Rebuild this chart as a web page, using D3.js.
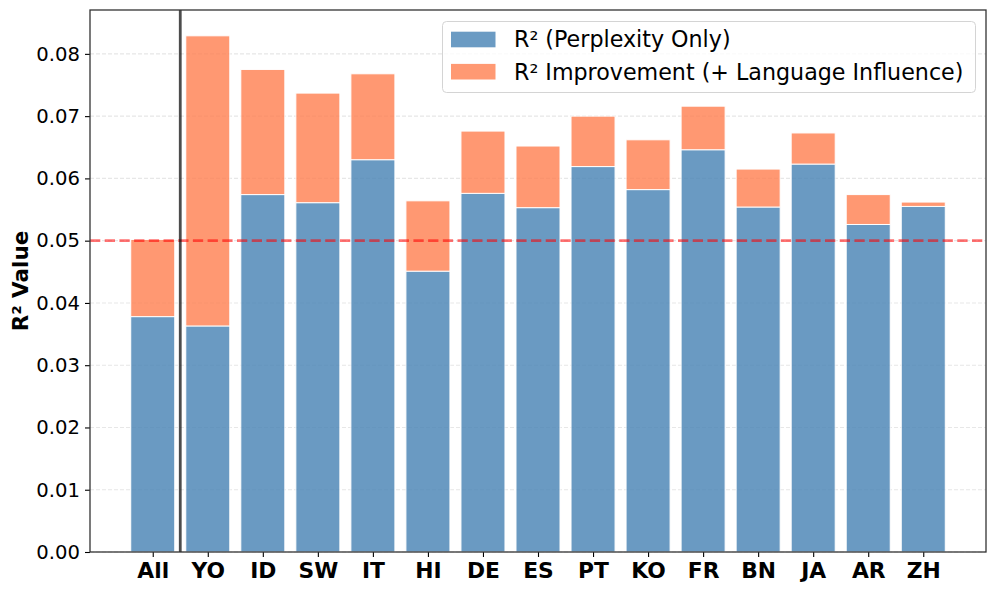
<!DOCTYPE html>
<html lang="en">
<head>
  <meta charset="UTF-8">
  <title>R² by language</title>
  <style>
    body { margin: 0; background: #fff; }
    svg { display: block; font-family: "DejaVu Sans", sans-serif; }
  </style>
</head>
<body>
  <div id="chart"></div>

  <script src="https://d3js.org/d3.v7.min.js"></script>
  <script>
    // data
    const languages = ["All", "YO", "ID", "SW", "IT", "HI", "DE", "ES", "PT", "KO", "FR", "BN", "JA", "AR", "ZH"];
    const r2Perplexity = [0.0378, 0.0363, 0.0574, 0.0561, 0.0630, 0.0451, 0.0576, 0.0553, 0.0619, 0.0582, 0.0646, 0.0554, 0.0623, 0.0526, 0.0555];
    const r2Improvement = [0.0124, 0.0466, 0.0201, 0.0176, 0.0138, 0.0113, 0.0100, 0.0099, 0.0081, 0.0080, 0.0070, 0.0061, 0.0050, 0.0048, 0.0007];
    const yTicks = [0, 0.01, 0.02, 0.03, 0.04, 0.05, 0.06, 0.07, 0.08];
    const baseline = 0.05;
    const seriesNames = ["R² (Perplexity Only)", "R² Improvement (+ Language Influence)"];

    const width = 996, height = 593;
    const plotL = 90, plotR = 986, plotT = 10, plotB = 552;
    const blue = "steelblue", orange = "coral";

    const rows = languages.map((l, i) => ({ lang: l, i: i, base: r2Perplexity[i], extra: r2Improvement[i] }));
    const maxTotal = d3.max(rows, d => d.base + d.extra);

    const barW = 0.8;
    const pad = (languages.length - 1 + barW) * 0.05;
    const x = d3.scaleLinear()
                .domain([-barW / 2 - pad, languages.length - 1 + barW / 2 + pad])
                .range([plotL, plotR]);
    const y = d3.scaleLinear()
                .domain([0, maxTotal * 1.05])
                .range([plotB, plotT]);
    const bw = x(barW) - x(0);

    const svg = d3.select("#chart").append("svg")
                  .attr("width", width)
                  .attr("height", height);

    // grid
    svg.append("g")
       .selectAll("line")
       .data(yTicks)
       .enter().append("line")
       .attr("x1", plotL).attr("x2", plotR)
       .attr("y1", d => y(d)).attr("y2", d => y(d))
       .attr("stroke", "#b0b0b0")
       .attr("stroke-opacity", 0.3)
       .attr("stroke-width", 1.1)
       .attr("stroke-dasharray", "4,2");

    // bars
    const bars = svg.append("g");
    bars.selectAll(".base")
        .data(rows)
        .enter().append("rect")
        .attr("class", "base")
        .attr("x", d => x(d.i) - bw / 2)
        .attr("width", bw)
        .attr("y", d => y(d.base))
        .attr("height", d => y(0) - y(d.base))
        .attr("fill", blue)
        .attr("stroke", "white")
        .attr("stroke-width", 1)
        .attr("opacity", 0.8);

    bars.selectAll(".extra")
        .data(rows)
        .enter().append("rect")
        .attr("class", "extra")
        .attr("x", d => x(d.i) - bw / 2)
        .attr("width", bw)
        .attr("y", d => y(d.base + d.extra))
        .attr("height", d => y(d.base) - y(d.base + d.extra))
        .attr("fill", orange)
        .attr("stroke", "white")
        .attr("stroke-width", 1)
        .attr("opacity", 0.8);

    // reference line and separator
    svg.append("line")
       .attr("x1", plotL).attr("x2", plotR)
       .attr("y1", y(baseline)).attr("y2", y(baseline))
       .attr("stroke", "red")
       .attr("stroke-opacity", 0.55)
       .attr("stroke-width", 2.8)
       .attr("stroke-dasharray", "10.3,4.4");

    svg.append("line")
       .attr("x1", x(0.5)).attr("x2", x(0.5))
       .attr("y1", plotT).attr("y2", plotB)
       .attr("stroke", "black")
       .attr("stroke-opacity", 0.7)
       .attr("stroke-width", 2.8);

    // axes
    const yAxis = svg.append("g")
                     .attr("transform", `translate(${plotL},0)`)
                     .call(d3.axisLeft(y).tickValues(yTicks).tickFormat(d3.format(".2f")).tickSize(5).tickPadding(5));
    yAxis.select(".domain").remove();
    yAxis.selectAll("text").attr("font-size", 19.6).attr("fill", "#000").attr("font-family", "DejaVu Sans");
    yAxis.selectAll("line").attr("stroke", "#000").attr("stroke-width", 1.1);

    const xAxis = svg.append("g")
                     .attr("transform", `translate(0,${plotB})`)
                     .call(d3.axisBottom(x).tickValues(d3.range(languages.length)).tickFormat(i => languages[i]).tickSize(5).tickPadding(6));
    xAxis.select(".domain").remove();
    xAxis.selectAll("text").attr("font-size", 21.8).attr("font-weight", "bold").attr("fill", "#000").attr("font-family", "DejaVu Sans");
    xAxis.selectAll("line").attr("stroke", "#000").attr("stroke-width", 1.1);

    // frame
    svg.append("rect")
       .attr("x", plotL).attr("y", plotT)
       .attr("width", plotR - plotL).attr("height", plotB - plotT)
       .attr("fill", "none")
       .attr("stroke", "#333")
       .attr("stroke-width", 1.3);

    svg.append("text")
       .attr("transform", `translate(28,${(plotT + plotB) / 2}) rotate(-90)`)
       .attr("text-anchor", "middle")
       .attr("font-size", 21.5)
       .attr("font-weight", "bold")
       .text("R² Value");

    // legend
    const lg = svg.append("g");
    lg.append("rect")
      .attr("x", 442.5).attr("y", 21.5)
      .attr("width", 533).attr("height", 71)
      .attr("rx", 4)
      .attr("fill", "white").attr("fill-opacity", 0.8)
      .attr("stroke", "#d4d4d4");
    const items = lg.selectAll(".item")
                    .data(seriesNames)
                    .enter().append("g")
                    .attr("transform", (d, i) => `translate(451,${39.5 + i * 32.2})`);
    items.append("rect")
         .attr("x", 0).attr("y", -7.8)
         .attr("width", 44.5).attr("height", 15.6)
         .attr("fill", (d, i) => i === 0 ? blue : orange)
         .attr("opacity", 0.8);
    items.append("text")
         .attr("x", 63).attr("y", 7.8)
         .attr("font-size", 22.2)
         .text(d => d);
  </script>
</body>
</html>
